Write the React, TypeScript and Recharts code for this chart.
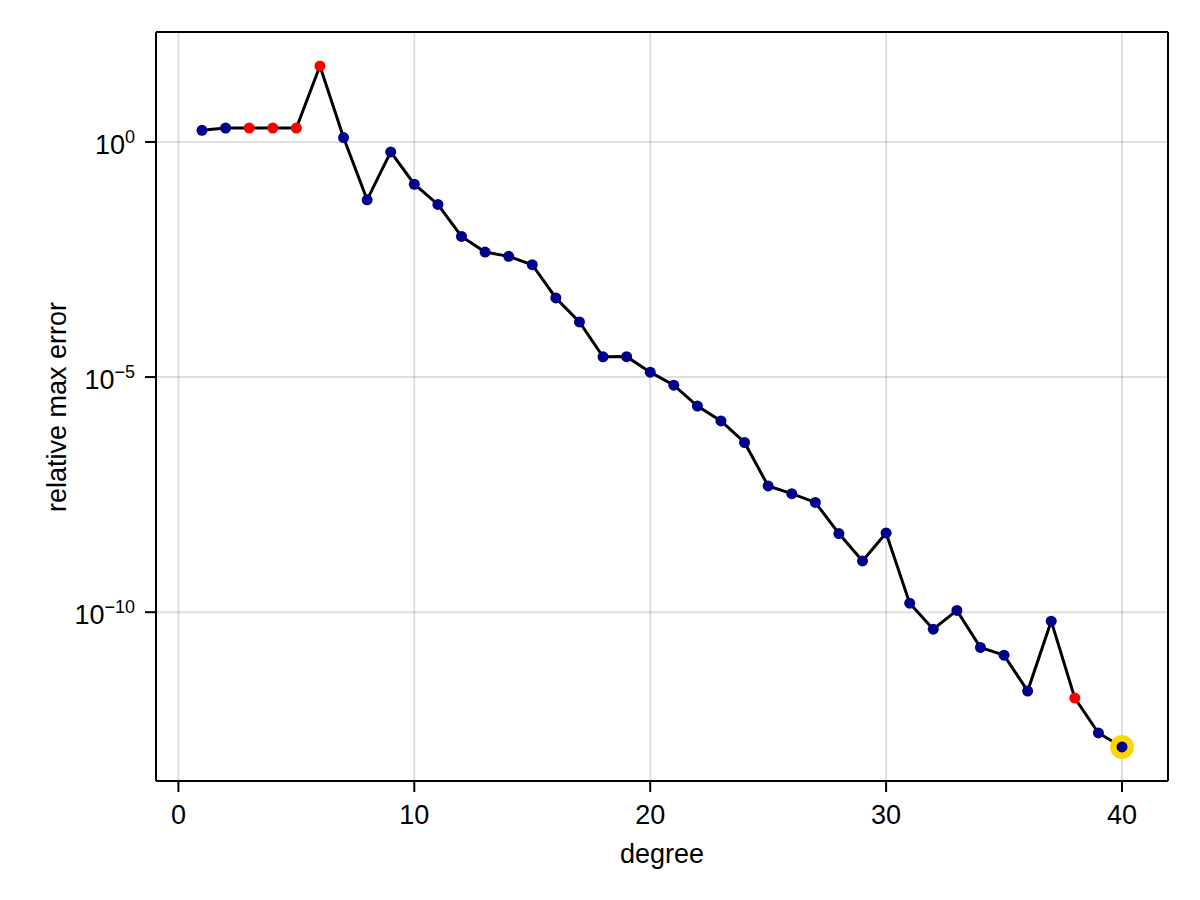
import { LineChart, Line, XAxis, YAxis, CartesianGrid } from 'recharts';

// polynomial degree vs relative max error (log scale)
const degrees = [
  1, 2, 3, 4, 5, 6, 7, 8, 9, 10, 11, 12, 13, 14, 15, 16, 17, 18, 19, 20,
  21, 22, 23, 24, 25, 26, 27, 28, 29, 30, 31, 32, 33, 34, 35, 36, 37, 38, 39, 40,
];
const maxErrors = [
  1.77, 1.98, 1.98, 1.98, 1.98, 41.1, 1.24, 5.87e-2, 6.14e-1, 1.26e-1,
  4.69e-2, 9.8e-3, 4.55e-3, 3.69e-3, 2.45e-3, 4.81e-4, 1.49e-4, 2.69e-5, 2.72e-5, 1.27e-5,
  6.73e-6, 2.41e-6, 1.17e-6, 4.06e-7, 4.83e-8, 3.31e-8, 2.16e-8, 4.69e-9, 1.23e-9, 4.85e-9,
  1.55e-10, 4.36e-11, 1.09e-10, 1.78e-11, 1.22e-11, 2.1e-12, 6.44e-11, 1.49e-12, 2.7e-13, 1.36e-13,
];
const redDegrees = [3, 4, 5, 6, 38];
const bestDegree = 40;

const xTicks = [0, 10, 20, 30, 40];
const yTicks = [1e-10, 1e-5, 1];

const data = degrees.map((d, i) => ({
  degree: d,
  error: maxErrors[i],
  red: redDegrees.includes(d),
  best: d === bestDegree,
}));

const FONT = '"Liberation Sans", Arial, sans-serif';
const xDomain = [-0.95, 41.95];
const yDomain = [Math.pow(10, -13.59), Math.pow(10, 2.338)];

const XTick = (props: any) => {
  const { x, y, payload } = props;
  return (
    <text x={x} y={y + 32} textAnchor="middle" fontFamily={FONT} fontSize={27} fill="#000">
      {payload.value}
    </text>
  );
};

const YTick = (props: any) => {
  const { x, y, payload } = props;
  const exp = Math.round(Math.log10(payload.value));
  const expText = exp < 0 ? '\u2212' + Math.abs(exp) : String(exp);
  return (
    <text x={x} y={y + 11.6} textAnchor="end" fontFamily={FONT} fontSize={27} fill="#000">
      10
      <tspan dy={-10.6} fontSize={18}>
        {expText}
      </tspan>
    </text>
  );
};

const renderDot = (props: any) => {
  const { cx, cy, payload, index } = props;
  const fill = payload.red ? '#ff0000' : '#00008b';
  return (
    <g key={'dot-' + index}>
      {payload.best && <circle cx={cx} cy={cy} r={12} fill="#ffd700" />}
      <circle cx={cx} cy={cy} r={5.5} fill={fill} />
    </g>
  );
};

const App = () => {
  return (
    <div style={{ position: 'absolute', left: 0, top: 0, width: 1200, height: 900, background: '#fff' }}>
      <LineChart
        width={1200}
        height={900}
        data={data}
        margin={{ top: 31, right: 31, bottom: 118, left: 155 }}
      >
        <CartesianGrid stroke="rgba(0,0,0,0.12)" strokeWidth={2} />
        <XAxis
          dataKey="degree"
          type="number"
          domain={xDomain}
          allowDataOverflow
          ticks={xTicks}
          height={1}
          tickSize={11}
          tickMargin={0}
          axisLine={{ stroke: '#000', strokeWidth: 2 }}
          tickLine={{ stroke: '#000', strokeWidth: 2 }}
          tick={<XTick />}
        />
        <XAxis
          xAxisId="top"
          orientation="top"
          type="number"
          domain={xDomain}
          height={1}
          tick={false}
          tickLine={false}
          axisLine={{ stroke: '#000', strokeWidth: 2 }}
        />
        <YAxis
          type="number"
          scale="log"
          domain={yDomain}
          allowDataOverflow
          ticks={yTicks}
          width={1}
          tickSize={11}
          tickMargin={10}
          axisLine={{ stroke: '#000', strokeWidth: 2 }}
          tickLine={{ stroke: '#000', strokeWidth: 2 }}
          tick={<YTick />}
        />
        <YAxis
          yAxisId="right"
          orientation="right"
          type="number"
          domain={[0, 1]}
          width={1}
          tick={false}
          tickLine={false}
          axisLine={{ stroke: '#000', strokeWidth: 2 }}
        />
        <Line
          dataKey="error"
          type="linear"
          stroke="#000"
          strokeWidth={3}
          dot={renderDot}
          activeDot={false}
          isAnimationActive={false}
        />
      </LineChart>
      <svg
        width={1200}
        height={900}
        style={{ position: 'absolute', left: 0, top: 0, pointerEvents: 'none' }}
      >
        <text x={662} y={863} textAnchor="middle" fontFamily={FONT} fontSize={27} fill="#000">
          degree
        </text>
        <text
          x={66}
          y={407}
          textAnchor="middle"
          fontFamily={FONT}
          fontSize={27}
          fill="#000"
          transform="rotate(-90, 66, 407)"
        >
          relative max error
        </text>
      </svg>
    </div>
  );
};

export default App;
